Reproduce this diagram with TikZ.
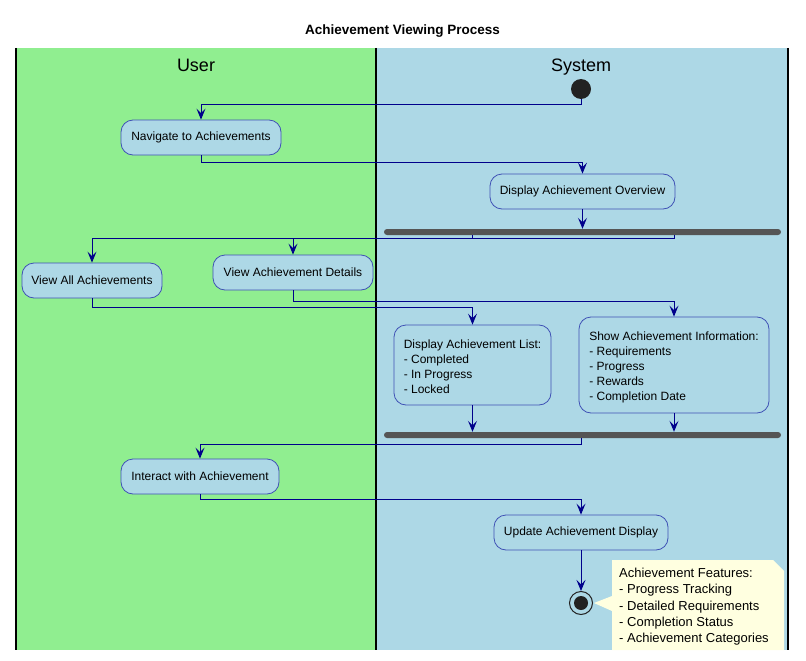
\documentclass[tikz,border=0pt]{standalone}
\usepackage{fontspec}
\setmainfont{Liberation Sans}
\usetikzlibrary{arrows.meta,calc}
\definecolor{userlane}{HTML}{90EE90}
\definecolor{syslane}{HTML}{ADD8E6}
\definecolor{actfill}{HTML}{ADD8E6}
\definecolor{actborder}{HTML}{3F51B5}
\definecolor{flowcol}{HTML}{00008B}
\definecolor{barcol}{HTML}{555555}
\definecolor{notefill}{HTML}{FFFFE0}
\definecolor{dotcol}{HTML}{222222}
\tikzset{
  act/.style={draw=actborder, fill=actfill, rounded corners=12pt, line width=0.8pt,
    inner sep=0pt, font=\fontsize{12}{15}\selectfont, text=black},
  multi/.style={act, align=left},
  forkbar/.style={fill=barcol, draw=none, rounded corners=3pt, minimum height=6pt, inner sep=0pt},
  flow/.style={draw=flowcol, line width=1pt, -{Stealth[length=11pt,width=9pt,inset=4.5pt]}},
  lanebord/.style={draw=black, line width=1.3pt},
  lanehead/.style={font=\fontsize{18}{20}\selectfont, text=black, anchor=base},
}
\begin{document}
\begin{tikzpicture}[x=1pt,y=-1pt]
\useasboundingbox (0,0) rectangle (806,661);
\fill[white] (0,0) rectangle (806,661);
% title
\node[font=\fontsize{13.5}{16}\selectfont\bfseries, anchor=base] (title) at (402.5,35) {Achievement Viewing Process};
% lanes
\fill[userlane] (16,48) rectangle (376,650);
\fill[syslane] (376,48) rectangle (788,650);
\draw[lanebord] (16,48) -- (16,650);
\draw[lanebord] (376,48) -- (376,650);
\draw[lanebord] (788,48) -- (788,650);
\node[lanehead] (huser) at (196,71) {User};
\node[lanehead] (hsys) at (581,71) {System};
% start
\node[circle, fill=dotcol, minimum size=20pt, inner sep=0pt] (start) at (581,89) {};
% activities
\node[act, minimum width=160pt, minimum height=35pt] (nav) at (201,137.5) {Navigate to Achievements};
\node[act, minimum width=185pt, minimum height=35pt] (overview) at (582.5,191.5) {Display Achievement Overview};
\node[forkbar, minimum width=397pt] (fork) at (582.5,232) {};
\node[act, minimum width=140pt, minimum height=35pt] (viewall) at (92,280.5) {View All Achievements};
\node[act, minimum width=160pt, minimum height=35pt] (viewdet) at (293,272.5) {View Achievement Details};
\node[multi, minimum width=157pt, minimum height=80pt] (list) at (472.5,365) {\rule{0pt}{13pt}Display Achievement List:\\- Completed\\- In Progress\\- Locked};
\node[multi, minimum width=190pt, minimum height=96pt] (info) at (674,365) {\rule{0pt}{13pt}Show Achievement Information:\\- Requirements\\- Progress\\- Rewards\\- Completion Date};
\node[forkbar, minimum width=397pt] (join) at (582.5,435) {};
\node[act, minimum width=158pt, minimum height=35pt] (interact) at (200,476.5) {Interact with Achievement};
\node[act, minimum width=174pt, minimum height=35pt] (update) at (581,532.5) {Update Achievement Display};
% end
\node[circle, draw=dotcol, line width=1pt, fill=syslane, minimum size=23pt, inner sep=0pt] (end) at (581,603) {};
\node[circle, fill=dotcol, minimum size=14pt, inner sep=0pt] (enddot) at (end.center) {};
% note
\fill[notefill] (594,603) -- (612,596) -- (612,560) -- (773,560) -- (784,571) -- (784,650) -- (612,650) -- (612,611) -- cycle;
\node[anchor=north west, align=left, inner sep=0pt, font=\fontsize{13}{16.3}\selectfont] (note) at (619,568)
  {Achievement Features:\\- Progress Tracking\\- Detailed Requirements\\- Completion Status\\- Achievement Categories};
% connectors
\draw[flow] (start.south) -- ++(0,5) -| (nav.north);
\draw[flow] (nav.south) -- ++(0,7) -| (overview.north);
\draw[flow] (overview.south) -- (overview.south |- fork.north);
\draw[flow] (fork.south -| list.north) -- ++(0,3) -| (viewall.north);
\draw[flow] (fork.south -| info.north) -- ++(0,3) -| (viewdet.north);
\draw[flow] (viewall.south) -- ++(0,9) -| (list.north);
\draw[flow] (viewdet.south) -- ++(0,11) -| (info.north);
\draw[flow] (list.south) -- (list.south |- join.north);
\draw[flow] (info.south) -- (info.south |- join.north);
\draw[flow] (join.south -| update.north) -- ++(0,6) -| (interact.north);
\draw[flow] (interact.south) -- ++(0,5) -| (update.north);
\draw[flow] (update.south) -- (end.north);
\end{tikzpicture}
\end{document}
